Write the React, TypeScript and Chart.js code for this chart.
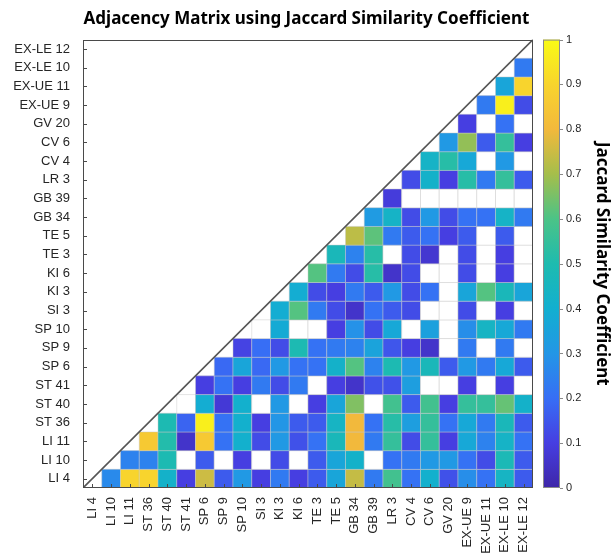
import React, { useEffect, useRef } from "react";
import { Chart, registerables } from "chart.js";

Chart.register(...registerables);

// Acupoint labels, index 0 at bottom / left
const acupoints = [
  "LI 4", "LI 10", "LI 11", "ST 36", "ST 40", "ST 41", "SP 6", "SP 9", "SP 10", "SI 3",
  "KI 3", "KI 6", "TE 3", "TE 5", "GB 34", "GB 39", "LR 3", "CV 4", "CV 6", "GV 20",
  "EX-UE 9", "EX-UE 11", "EX-LE 10", "EX-LE 12",
];

// Row i holds the similarity of acupoint i with acupoints i+1 ... 23 (0 = no overlap, drawn white)
const upperTriangle: number[][] = [
  [0.27, 0.9, 0.9, 0.42, 0.1, 0.75, 0.16, 0.31, 0.1, 0.23, 0.1, 0.16, 0.36, 0.74, 0.23, 0.58, 0.21, 0.41, 0.14, 0.28, 0.21, 0.44, 0.16],
  [0.25, 0.25, 0.49, 0, 0.16, 0, 0.1, 0, 0.13, 0, 0.16, 0.36, 0.42, 0, 0.21, 0.23, 0.31, 0.31, 0.21, 0.13, 0.48, 0.16],
  [0.86, 0.51, 0.06, 0.86, 0.21, 0.41, 0.13, 0.31, 0.14, 0.21, 0.47, 0.8, 0.23, 0.55, 0.13, 0.55, 0.1, 0.37, 0.25, 0.43, 0.21],
  [0.49, 0.18, 0.97, 0.21, 0.41, 0.1, 0.3, 0.16, 0.16, 0.44, 0.8, 0.21, 0.52, 0.33, 0.55, 0.21, 0.37, 0.23, 0.47, 0.16],
  [0, 0.39, 0.08, 0.41, 0, 0.31, 0, 0.1, 0.36, 0.66, 0, 0.58, 0.16, 0.58, 0.1, 0.55, 0.55, 0.63, 0.42],
  [0.1, 0.21, 0.1, 0.23, 0.13, 0.23, 0, 0.1, 0.06, 0.14, 0.14, 0.33, 0, 0, 0.1, 0, 0.1, 0],
  [0.19, 0.36, 0.19, 0.31, 0.21, 0.21, 0.42, 0.61, 0.25, 0.49, 0.31, 0.47, 0.16, 0.31, 0.23, 0.37, 0.16],
  [0.11, 0.2, 0.13, 0.49, 0.21, 0.23, 0.25, 0.35, 0.15, 0.1, 0.06, 0, 0.23, 0, 0.23, 0],
  [0, 0.38, 0, 0, 0.1, 0.29, 0.13, 0.37, 0, 0.34, 0, 0.28, 0.44, 0.37, 0.23],
  [0.39, 0.61, 0.23, 0.13, 0.06, 0.21, 0.16, 0.13, 0, 0, 0.13, 0, 0.1, 0],
  [0.39, 0.13, 0.1, 0.23, 0.16, 0.31, 0.13, 0.21, 0, 0.36, 0.61, 0.47, 0.36],
  [0.61, 0.23, 0.13, 0.52, 0.06, 0.13, 0, 0, 0.13, 0, 0.1, 0],
  [0.47, 0.25, 0.52, 0, 0.13, 0.07, 0, 0.13, 0, 0.1, 0],
  [0.73, 0.62, 0.23, 0.16, 0.21, 0.1, 0.16, 0, 0.16, 0],
  [0.32, 0.43, 0.13, 0.31, 0.13, 0.21, 0.21, 0.43, 0.23],
  [0.09, 0, 0, 0, 0, 0, 0, 0],
  [0.13, 0.42, 0.1, 0.52, 0.23, 0.55, 0.16],
  [0.43, 0.52, 0.37, 0, 0.31, 0],
  [0.31, 0.68, 0.16, 0.55, 0.1],
  [0.1, 0, 0.21, 0],
  [0.23, 0.97, 0.13],
  [0.36, 0.9],
  [0.23],
];

const colorbarTicks = [0, 0.1, 0.2, 0.3, 0.4, 0.5, 0.6, 0.7, 0.8, 0.9, 1];

// parula-like colormap anchors
const parulaStops: [number, [number, number, number]][] = [
  [0.0, [62, 38, 168]],
  [0.1, [70, 62, 225]],
  [0.2, [55, 110, 245]],
  [0.3, [35, 150, 230]],
  [0.4, [18, 175, 208]],
  [0.5, [30, 187, 175]],
  [0.6, [75, 195, 135]],
  [0.7, [165, 190, 75]],
  [0.8, [242, 185, 60]],
  [0.9, [248, 212, 45]],
  [1.0, [249, 251, 21]],
];

function parula(v: number): string {
  const t = Math.max(0, Math.min(1, v));
  for (let i = 0; i < parulaStops.length - 1; i++) {
    const [t0, c0] = parulaStops[i];
    const [t1, c1] = parulaStops[i + 1];
    if (t <= t1) {
      const f = (t - t0) / (t1 - t0);
      const c = c0.map((a, k) => Math.round(a + (c1[k] - a) * f));
      return `rgb(${c[0]},${c[1]},${c[2]})`;
    }
  }
  const c = parulaStops[parulaStops.length - 1][1];
  return `rgb(${c[0]},${c[1]},${c[2]})`;
}

const FONT = "'Liberation Sans', Arial, Helvetica, sans-serif";
const TITLE_FONT = "'Noto Sans', 'Open Sans', sans-serif";

const decorPlugin = {
  id: "decor",
  afterDatasetsDraw(chart: any) {
    const { ctx, chartArea: a, scales } = chart;
    ctx.save();
    // axes box
    ctx.strokeStyle = "#4a4a4a";
    ctx.lineWidth = 1;
    ctx.strokeRect(Math.round(a.left) + 0.5, Math.round(a.top) + 0.5, Math.round(a.width) - 1, Math.round(a.height) - 1);
    // inward ticks
    ctx.beginPath();
    scales.x.ticks.forEach((t: any) => {
      const x = Math.round(scales.x.getPixelForValue(t.value)) + 0.5;
      ctx.moveTo(x, a.bottom);
      ctx.lineTo(x, a.bottom - 4);
    });
    scales.y.ticks.forEach((t: any) => {
      const y = Math.round(scales.y.getPixelForValue(t.value)) + 0.5;
      ctx.moveTo(a.left, y);
      ctx.lineTo(a.left + 4, y);
    });
    ctx.stroke();
    // colorbar
    const cb = scales.cb;
    const yb = cb.getPixelForValue(0);
    const yt = cb.getPixelForValue(1);
    const x0 = a.right + 10;
    const w = 17;
    const g = ctx.createLinearGradient(0, yb, 0, yt);
    parulaStops.forEach(([t, c]) => g.addColorStop(t, `rgb(${c[0]},${c[1]},${c[2]})`));
    ctx.fillStyle = g;
    ctx.fillRect(x0, yt, w, yb - yt);
    ctx.strokeStyle = "#8a8a8a";
    ctx.strokeRect(x0 + 0.5, yt + 0.5, w - 1, yb - yt - 1);
    ctx.beginPath();
    cb.ticks.forEach((t: any) => {
      const y = Math.round(cb.getPixelForValue(t.value)) + 0.5;
      ctx.moveTo(x0 + w, y);
      ctx.lineTo(x0 + w + 3, y);
    });
    ctx.stroke();
    ctx.restore();
  },
};

export default function App() {
  const ref = useRef<HTMLCanvasElement | null>(null);

  useEffect(() => {
    if (!ref.current) return;
    const cells: { x: number; y: number; v: number }[] = [];
    upperTriangle.forEach((row, i) => {
      row.forEach((v, k) => cells.push({ x: i + 1 + k, y: i, v }));
    });
    const n = acupoints.length;
    const setTicks = (axis: any) => {
      axis.ticks = acupoints.map((_, i) => ({ value: i }));
    };
    const cellRadius = (ctx: any) => {
      const a = ctx.chart.chartArea;
      if (!a) return 5;
      return a.width / n / Math.SQRT2;
    };

    const chart = new Chart(ref.current, {
      type: "scatter",
      data: {
        datasets: [
          {
            type: "line",
            data: [
              { x: -0.5, y: -0.5 },
              { x: n - 0.5, y: n - 0.5 },
            ],
            borderColor: "#555555",
            borderWidth: 1.6,
            pointRadius: 0,
            fill: false,
            order: 0,
          } as any,
          {
            data: cells as any,
            pointStyle: "rect",
            pointRadius: cellRadius,
            pointHoverRadius: cellRadius,
            pointBackgroundColor: (ctx: any) => (ctx.raw && ctx.raw.v > 0 ? parula(ctx.raw.v) : "#ffffff"),
            pointBorderColor: "rgba(200,200,200,0.8)",
            pointBorderWidth: 0.6,
            order: 1,
          } as any,
        ],
      },
      options: {
        responsive: false,
        animation: false,
        events: [],
        layout: { padding: 0 },
        plugins: {
          legend: { display: false },
          tooltip: { enabled: false },
          title: {
            display: true,
            text: "Adjacency Matrix using Jaccard Similarity Coefficient",
            color: "#000000",
            font: { family: TITLE_FONT, size: 17, weight: "bold" },
            padding: { top: 8, bottom: 10 },
            lineHeight: 1.2,
          },
        },
        scales: {
          x: {
            type: "linear",
            min: -0.5,
            max: n - 0.5,
            afterBuildTicks: setTicks,
            afterFit: (s: any) => {
              s.height = 69;
            },
            grid: { display: false, drawTicks: false },
            border: { display: false },
            ticks: {
              autoSkip: false,
              minRotation: 90,
              maxRotation: 90,
              padding: 9,
              color: "#262626",
              font: { family: FONT, size: 13 },
              callback: (v: any) => acupoints[v as number],
            },
          },
          y: {
            type: "linear",
            min: -0.5,
            max: n - 0.5,
            afterBuildTicks: setTicks,
            afterFit: (s: any) => {
              s.width = 83;
            },
            grid: { display: false, drawTicks: false },
            border: { display: false },
            ticks: {
              autoSkip: false,
              padding: 13,
              color: "#262626",
              font: { family: FONT, size: 13 },
              callback: (v: any) => acupoints[v as number],
            },
          },
          cb: {
            type: "linear",
            position: "right",
            axis: "y",
            min: 0,
            max: 1,
            afterBuildTicks: (axis: any) => {
              axis.ticks = colorbarTicks.map((v) => ({ value: v }));
            },
            afterFit: (s: any) => {
              s.width = 80;
            },
            grid: { display: false, drawTicks: false },
            border: { display: false },
            ticks: {
              padding: 33,
              color: "#262626",
              font: { family: FONT, size: 11 },
              callback: (v: any) => String(Number((v as number).toFixed(1))),
            },
            title: {
              display: true,
              text: "Jaccard Similarity Coefficient",
              color: "#000000",
              font: { family: TITLE_FONT, size: 17, weight: "bold" },
              padding: { top: 1, bottom: 0 },
            },
          } as any,
        },
      },
      plugins: [decorPlugin],
    });
    return () => chart.destroy();
  }, []);

  return (
    <div style={{ position: "fixed", left: 0, top: 0, width: 613, height: 557, background: "#ffffff" }}>
      <canvas ref={ref} width={613} height={557} style={{ display: "block" }} />
    </div>
  );
}
